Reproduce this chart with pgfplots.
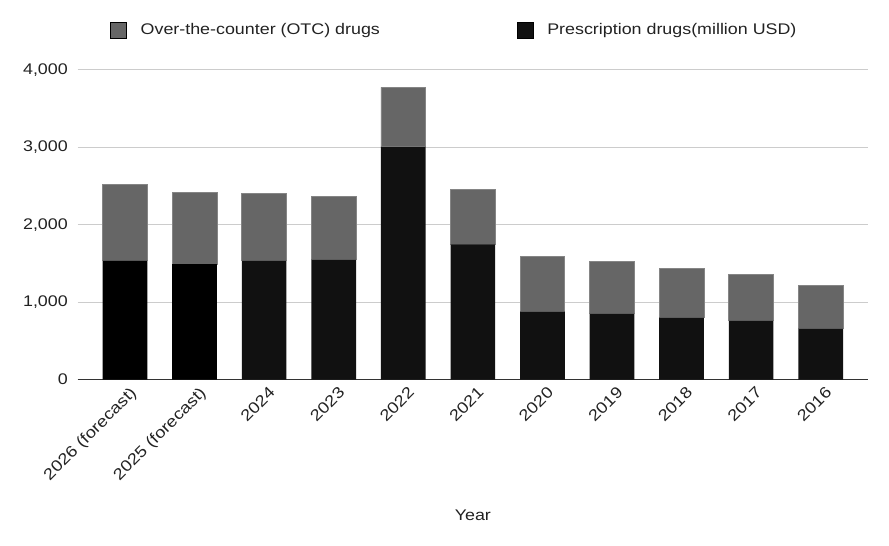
\documentclass[border=0pt]{standalone}
\usepackage{pgfplots}
\pgfplotsset{compat=1.18}
\usepackage{fontspec}
\setmainfont{Liberation Sans}[FakeStretch=1.16]
\definecolor{txt}{HTML}{222222}
\definecolor{otc}{HTML}{666666}
\definecolor{rxf}{HTML}{000000}
\definecolor{rxa}{HTML}{111111}
\definecolor{gridc}{HTML}{CCCCCC}
\definecolor{axc}{HTML}{333333}
\definecolor{edge}{HTML}{858585}
\begin{document}
\begin{tikzpicture}
\useasboundingbox (0,0) rectangle (889bp,546bp);
\begin{axis}[
  at={(77.7bp,166.5bp)}, anchor=south west,
  scale only axis, width=790.3bp, height=309.5bp,
  font=\fontsize{15.4bp}{18bp}\selectfont,
  ybar stacked, bar width=44.7bp,
  xmin=-0.68, xmax=10.68, ymin=0, ymax=4000,
  xtick={0,...,10},
  xticklabels={2026 (forecast),2025 (forecast),2024,2023,2022,2021,2020,2019,2018,2017,2016},
  ytick={0,1000,2000,3000,4000},
  major tick length=0pt,
  axis x line*=bottom, axis y line*=left,
  y axis line style={draw=none},
  x axis line style={draw=axc, line width=1.3bp},
  ymajorgrids, grid style={draw=gridc, line width=1bp},
  yticklabel style={text=txt, inner sep=0pt, anchor=east, xshift=-9.7bp},
  /pgf/number format/assume math mode=true,
  /pgf/number format/1000 sep={,},
  xticklabel style={text=txt, font=\fontsize{15.8bp}{18bp}\selectfont, xshift=4bp, yshift=-6bp, rotate=45, anchor=north east, inner sep=0pt},
  xlabel={Year},
  xlabel style={text=txt, at={(axis description cs:0.5,-0.4378)}, anchor=center},
  legend style={at={(axis description cs:0.0372,1.1294)}, anchor=west, draw=none, fill=none,
    text=txt, legend columns=2, nodes={inner sep=0pt},
    /tikz/every even column/.append style={column sep=137bp},
    /tikz/every odd column/.append style={column sep=14bp}},
  legend image code/.code={\fill[#1] (0bp,-8bp) rectangle (16bp,8bp);},
]
\addlegendimage{fill=otc}
\addlegendentry{Over-the-counter (OTC) drugs}
\addlegendimage{fill=rxa}
\addlegendentry{Prescription drugs(million USD)}
\addplot[forget plot, fill=rxf, draw=none] coordinates {
 (0,1535) (1,1492) (2,0) (3,0) (4,0) (5,0) (6,0) (7,0) (8,0) (9,0) (10,0)};
\addplot[forget plot, fill=rxa, draw=none] coordinates {
 (0,0) (1,0) (2,1535) (3,1548) (4,3008) (5,1747) (6,876) (7,850) (8,799) (9,760) (10,656)};
\addplot[forget plot, fill=otc, draw=edge, line width=0.6bp] coordinates {
 (0,987) (1,927) (2,866) (3,819) (4,767) (5,710) (6,720) (7,681) (8,633) (9,599) (10,565)};
\end{axis}
\end{tikzpicture}
\end{document}
